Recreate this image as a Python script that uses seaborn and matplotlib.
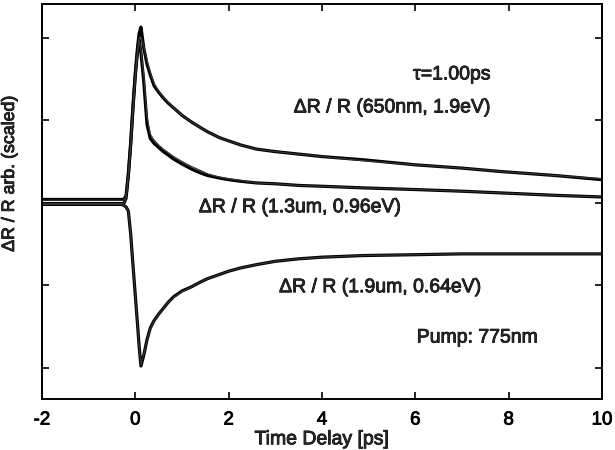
import matplotlib
matplotlib.use("Agg")
import matplotlib.pyplot as plt
import matplotlib.patheffects as pe
import seaborn as sns
import pandas as pd

# ---- data ----
time_ps = [-2, -1.5, -1, -0.5, -0.3, -0.25, -0.2, -0.15, -0.1, -0.05, 0, 0.05, 0.08,
           0.12, 0.18, 0.25, 0.32, 0.4, 0.5, 0.6, 0.7, 0.82, 1.0, 1.2, 1.4, 1.55, 1.8,
           2.0, 2.26, 2.6, 3.0, 3.5, 4.0, 4.9, 6.0, 7.0, 7.8, 9.0, 10.0]

r650_data = [0.04, 0.04, 0.04, 0.04, 0.04, 0.04, 0.08, 0.35, 0.73, 1.18, 1.58, 1.90, 2.05,
             2.13, 1.88, 1.68, 1.55, 1.42, 1.34, 1.27, 1.21, 1.15, 1.06, 0.98, 0.91, 0.86, 0.79,
             0.75, 0.70, 0.65, 0.62, 0.59, 0.56, 0.52, 0.46, 0.42, 0.38, 0.33, 0.28]
r650_fit = [0.03, 0.03, 0.03, 0.03, 0.03, 0.03, 0.07, 0.34, 0.72, 1.16, 1.55, 1.86, 2.00,
            2.01, 1.90, 1.73, 1.58, 1.45, 1.35, 1.28, 1.22, 1.15, 1.06, 0.98, 0.91, 0.86, 0.79,
            0.75, 0.70, 0.65, 0.62, 0.59, 0.56, 0.51, 0.46, 0.42, 0.38, 0.33, 0.29]

r13_data = [-0.01, -0.01, -0.01, -0.01, -0.01, -0.01, 0.05, 0.33, 0.70, 1.15, 1.55, 1.85, 1.98,
            1.82, 1.47, 0.95, 0.78, 0.72, 0.67, 0.62, 0.58, 0.53, 0.47, 0.41, 0.36, 0.33, 0.30,
            0.28, 0.26, 0.24, 0.23, 0.21, 0.20, 0.18, 0.16, 0.14, 0.12, 0.09, 0.07]
r13_fit = [-0.01, -0.01, -0.01, -0.01, -0.01, -0.01, 0.05, 0.32, 0.68, 1.12, 1.52, 1.83, 1.96,
           1.86, 1.55, 1.05, 0.83, 0.76, 0.70, 0.65, 0.61, 0.56, 0.50, 0.44, 0.39, 0.35, 0.31,
           0.29, 0.27, 0.24, 0.23, 0.21, 0.20, 0.18, 0.16, 0.14, 0.12, 0.09, 0.07]

r19_data = [-0.02, -0.02, -0.02, -0.02, -0.02, -0.03, -0.05, -0.10, -0.38, -0.76, -1.13, -1.50, -1.73,
            -1.98, -1.85, -1.66, -1.52, -1.43, -1.35, -1.28, -1.21, -1.14, -1.07, -1.02, -0.96, -0.92, -0.87,
            -0.83, -0.79, -0.75, -0.71, -0.68, -0.66, -0.64, -0.63, -0.62, -0.62, -0.62, -0.62]
r19_fit = [-0.02, -0.02, -0.02, -0.02, -0.02, -0.03, -0.05, -0.10, -0.38, -0.76, -1.13, -1.50, -1.73,
           -1.96, -1.84, -1.66, -1.53, -1.43, -1.35, -1.28, -1.21, -1.15, -1.08, -1.02, -0.96, -0.92, -0.87,
           -0.83, -0.79, -0.75, -0.71, -0.68, -0.66, -0.64, -0.63, -0.62, -0.62, -0.62, -0.62]

x_ticks = [-2, 0, 2, 4, 6, 8, 10]
y_ticks = [-2, -1, 0, 1, 2]

labels = {
    "tau": "\u03c4=1.00ps",
    "l650": "\u0394R / R (650nm, 1.9eV)",
    "l13": "\u0394R / R (1.3um, 0.96eV)",
    "l19": "\u0394R / R (1.9um, 0.64eV)",
    "pump": "Pump: 775nm",
}

# ---- plot ----
sns.set_theme(style="ticks")
plt.rcParams["font.family"] = ["Liberation Sans", "DejaVu Sans"]
plt.rcParams["axes.linewidth"] = 1.4

thick = [pe.withStroke(linewidth=0.6, foreground="black")]

fig = plt.figure(figsize=(6.15, 4.5), dpi=100)
ax = fig.add_axes([0.0683, 0.1133, 0.9106, 0.8778])

df = pd.DataFrame({"t": time_ps,
                   "r650": r650_data, "r650f": r650_fit,
                   "r13": r13_data, "r13f": r13_fit,
                   "r19": r19_data, "r19f": r19_fit})

for col in ["r650", "r13", "r19"]:
    sns.lineplot(data=df, x="t", y=col, ax=ax, color="black", linewidth=2.3,
                 estimator=None, sort=False)
for col in ["r650f", "r13f", "r19f"]:
    sns.lineplot(data=df, x="t", y=col, ax=ax, color="#333333", linewidth=0.9,
                 estimator=None, sort=False)

ax.set_xlim(-2, 10)
ax.set_ylim(-2.38, 2.41)
ax.set_xticks(x_ticks)
ax.set_xticklabels([str(v) for v in x_ticks])
ax.set_yticks(y_ticks)
ax.set_yticklabels([])
ax.tick_params(direction="in", length=5, width=1.2, top=True, right=True,
               labelsize=13.5, colors="black", pad=9)
for lab in ax.get_xticklabels():
    lab.set_path_effects(thick)
for s in ax.spines.values():
    s.set_color("black")

ax.set_xlabel("Time Delay [ps]", fontsize=14, labelpad=2, path_effects=thick)
ax.set_ylabel("\u0394R / R arb. (scaled)", fontsize=12.8, path_effects=thick)
ax.yaxis.set_label_coords(-0.043, 0.57)

fs = 14
ax.text(7.62, 1.55, labels["tau"], fontsize=fs, ha="right", va="center", path_effects=thick)
ax.text(7.62, 1.15, labels["l650"], fontsize=fs, ha="right", va="center", path_effects=thick)
ax.text(1.36, -0.06, labels["l13"], fontsize=fs, ha="left", va="center", path_effects=thick)
ax.text(3.08, -1.03, labels["l19"], fontsize=fs, ha="left", va="center", path_effects=thick)
ax.text(6.03, -1.64, labels["pump"], fontsize=fs, ha="left", va="center", path_effects=thick)

fig.savefig("out.png", dpi=100)
